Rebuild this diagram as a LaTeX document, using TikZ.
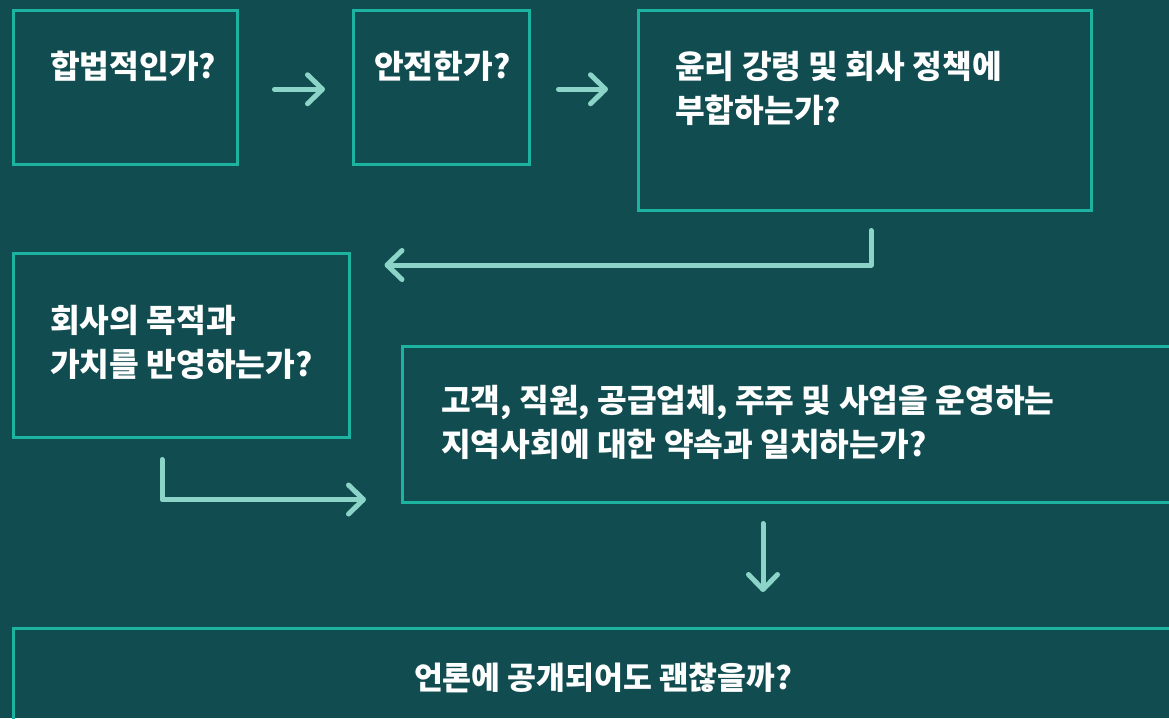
\documentclass[tikz,border=0pt]{standalone}
\usepackage{fontspec}
\setmainfont{Noto Sans CJK KR}
\usepackage{tikz}
\usetikzlibrary{arrows.meta}
\usetikzlibrary{calc}

\definecolor{bgteal}{HTML}{114D50}
\definecolor{boxline}{HTML}{1DB3A1}
\definecolor{arrowmint}{HTML}{8CD4C8}

\begin{document}
\begin{tikzpicture}[x=1pt,y=-1pt,
  box/.style={draw=boxline,line width=2.5pt,anchor=north west,inner sep=0pt},
  question/.style={text=white,font=\fontsize{32.3}{44}\selectfont\bfseries,
    align=left,inner sep=0pt,anchor=base west},
  flow/.style={draw=arrowmint,line width=5pt,line cap=round,line join=round,
    -{Straight Barb[length=15pt,width=29pt,round]}}]
\useasboundingbox (0,0) rectangle (1169,718);
\fill[bgteal] (0,0) rectangle (1169,718);
\clip (0,0) rectangle (1169,718);

\node[box,minimum width=224,minimum height=154] (b1) at (12,9) {};
\node[box,minimum width=176,minimum height=154] (b2) at (352,9) {};
\node[box,minimum width=453,minimum height=200] (b3) at (637,9) {};
\node[box,minimum width=336,minimum height=184] (b4) at (12,252) {};
\node[box,minimum width=779,minimum height=156] (b5) at (401,345) {};
\node[box,minimum width=1168,minimum height=113] (b6) at (12,627) {};

% base of a two-line node is its last line
\node[question] (t1) at (50,78) {합법적인가?};
\node[question] (t2) at (374,78) {안전한가?};
\node[question] (t3) at (675,122) {윤리 강령 및 회사 정책에\\부합하는가?};
\node[question] (t4) at (50,376) {회사의 목적과\\가치를 반영하는가?};
\node[question] (t5) at (441,456) {고객, 직원, 공급업체, 주주 및 사업을 운영하는\\지역사회에 대한 약속과 일치하는가?};
\node[question,anchor=base,font=\fontsize{31.4}{44}\selectfont\bfseries] (t6) at (603,689) {언론에 공개되어도 괜찮을까?};

% arrows between the boxes
\coordinate (up3) at ($(b3.south west)+(234,19)$);
\coordinate (up4) at ($(b4.south west)+(150,21)$);
\coordinate (up5) at ($(b5.south west)+(362,20)$);

\draw[flow,shorten <=36pt,shorten >=27pt] ($(b1.east)+(0,2)$) -- ($(b2.west)+(0,2)$);
\draw[flow,shorten <=28pt,shorten >=29pt] ($(b2.east)+(0,2)$) -- ($(b2.east -| b3.west)+(0,2)$);
\draw[flow] (up3) |- ($(b4.north east)+(34,13)$);
\draw[flow] (up4) |- ($(b5.south west)+(-35,-4)$);
\draw[flow] (up5) -- ($(b6.north west)+(751,-35)$);
\end{tikzpicture}
\end{document}
